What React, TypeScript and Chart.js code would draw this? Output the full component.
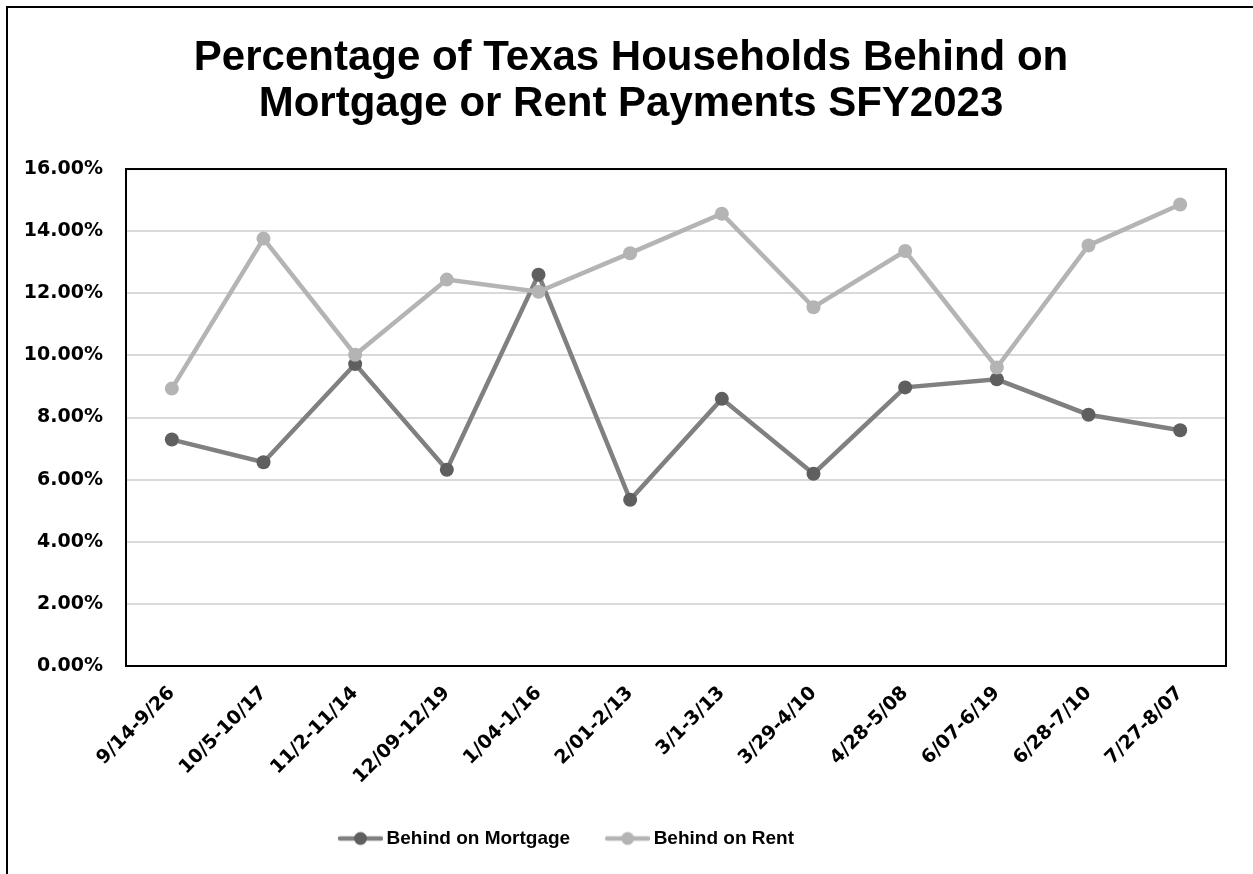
import React, { useEffect, useRef } from "react";
import { Chart, registerables } from "chart.js";

Chart.register(...registerables);

const titleLines = [
  "Percentage of Texas Households Behind on",
  "Mortgage or Rent Payments SFY2023",
];
const categories = [
  "9/14-9/26",
  "10/5-10/17",
  "11/2-11/14",
  "12/09-12/19",
  "1/04-1/16",
  "2/01-2/13",
  "3/1-3/13",
  "3/29-4/10",
  "4/28-5/08",
  "6/07-6/19",
  "6/28-7/10",
  "7/27-8/07",
];
const seriesNames = ["Behind on Mortgage", "Behind on Rent"];
const mortgage = [7.29, 6.56, 9.72, 6.32, 12.6, 5.35, 8.6, 6.19, 8.97, 9.23, 8.09, 7.59];
const rent = [8.93, 13.76, 10.02, 12.44, 12.05, 13.29, 14.56, 11.55, 13.36, 9.61, 13.54, 14.86];
const yMin = 0;
const yMax = 16;
const yStep = 2;

const FONT = "'Liberation Sans', Arial, sans-serif";
const TICK_FONT = "'DejaVu Sans', 'Liberation Sans', sans-serif";
const MORT_LINE = "#808080";
const MORT_DOT = "#5f5f5f";
const RENT_LINE = "#b4b4b4";
const RENT_DOT = "#b4b4b4";
const LEGEND_SHIFT = -54;
const TITLE_SHIFT = 14;

function makeSymbol(lineColor: string, dotColor: string) {
  const c = document.createElement("canvas");
  c.width = 57;
  c.height = 16;
  const ctx = c.getContext("2d")!;
  ctx.strokeStyle = lineColor;
  ctx.lineWidth = 4.5;
  ctx.lineCap = "round";
  ctx.beginPath();
  ctx.moveTo(14, 8);
  ctx.lineTo(55, 8);
  ctx.stroke();
  ctx.fillStyle = dotColor;
  ctx.beginPath();
  ctx.arc(34.5, 8, 6.5, 0, Math.PI * 2);
  ctx.fill();
  return c;
}

const framePlugin = {
  id: "frame",
  beforeDatasetsDraw(chart: any) {
    const { ctx, chartArea } = chart;
    const { left, top, right, bottom } = chartArea;
    ctx.save();
    ctx.strokeStyle = "#000";
    ctx.lineWidth = 2;
    ctx.strokeRect(left, top, right - left, bottom - top);
    ctx.restore();
  },
};

const shiftPlugin = {
  id: "shiftBoxes",
  afterLayout(chart: any) {
    const lg = chart.legend;
    if (lg) {
      lg.left += LEGEND_SHIFT;
      lg.right += LEGEND_SHIFT;
    }
    const tb = chart.titleBlock;
    if (tb) {
      tb.left += TITLE_SHIFT;
      tb.right += TITLE_SHIFT;
    }
  },
};

export default function App() {
  const ref = useRef<HTMLCanvasElement | null>(null);

  useEffect(() => {
    if (!ref.current) return;
    const symbols = [makeSymbol(MORT_LINE, MORT_DOT), makeSymbol(RENT_LINE, RENT_DOT)];
    const chart = new Chart(ref.current, {
      type: "line",
      data: {
        labels: categories,
        datasets: [
          {
            label: seriesNames[0],
            data: mortgage,
            borderColor: MORT_LINE,
            backgroundColor: MORT_DOT,
            pointBackgroundColor: MORT_DOT,
            pointBorderColor: MORT_DOT,
            pointRadius: 7,
            pointBorderWidth: 0,
            borderWidth: 4.5,
            tension: 0,
            order: 1,
          },
          {
            label: seriesNames[1],
            data: rent,
            borderColor: RENT_LINE,
            backgroundColor: RENT_DOT,
            pointBackgroundColor: RENT_DOT,
            pointBorderColor: RENT_DOT,
            pointRadius: 7,
            pointBorderWidth: 0,
            borderWidth: 4.5,
            tension: 0,
            order: 0,
          },
        ],
      },
      options: {
        responsive: false,
        animation: false,
        layout: { padding: { top: 0, left: 0, right: 27, bottom: 16 } },
        plugins: {
          title: {
            display: true,
            text: titleLines,
            color: "#000",
            font: { family: FONT, size: 42, weight: "bold", lineHeight: 1.08 },
            padding: { top: 28, bottom: 42.3 },
          },
          legend: {
            position: "bottom",
            labels: {
              usePointStyle: true,
              pointStyleWidth: 45,
              padding: 29,
              color: "#000",
              font: { family: FONT, size: 19, weight: "bold" },
              generateLabels: (ch: any) =>
                ch.data.datasets.map((ds: any, i: number) => ({
                  text: ds.label,
                  pointStyle: symbols[i],
                  fillStyle: ds.backgroundColor,
                  strokeStyle: ds.borderColor,
                  lineWidth: 0,
                  hidden: false,
                  datasetIndex: i,
                  fontColor: "#000",
                })),
            },
          },
          tooltip: { enabled: false },
        },
        scales: {
          x: {
            offset: true,
            grid: { display: false, drawTicks: false, offset: true },
            border: { display: false },
            afterFit: (s: any) => {
              s.height = 134;
            },
            ticks: {
              color: "#000",
              font: { family: TICK_FONT, size: 19, weight: "bold" },
              maxRotation: 45,
              minRotation: 45,
              autoSkip: false,
              padding: 16,
            },
          },
          y: {
            min: yMin,
            max: yMax,
            afterFit: (s: any) => {
              s.width = 118;
            },
            grid: { color: "#d9d9d9", lineWidth: 2, drawTicks: false },
            border: { display: false },
            ticks: {
              stepSize: yStep,
              color: "#000",
              padding: 23,
              font: { family: TICK_FONT, size: 19, weight: "bold" },
              callback: (v: any) => Number(v).toFixed(2) + "%",
            },
          },
        },
      },
      plugins: [framePlugin, shiftPlugin],
    });
    return () => chart.destroy();
  }, []);

  return (
    <div
      style={{
        position: "absolute",
        left: 6,
        top: 6,
        width: 1245,
        height: 866,
        borderLeft: "2px solid #000",
        borderTop: "2px solid #000",
        overflow: "hidden",
        background: "#fff",
      }}
    >
      <canvas ref={ref} width={1245} height={866} style={{ display: "block" }} />
    </div>
  );
}
